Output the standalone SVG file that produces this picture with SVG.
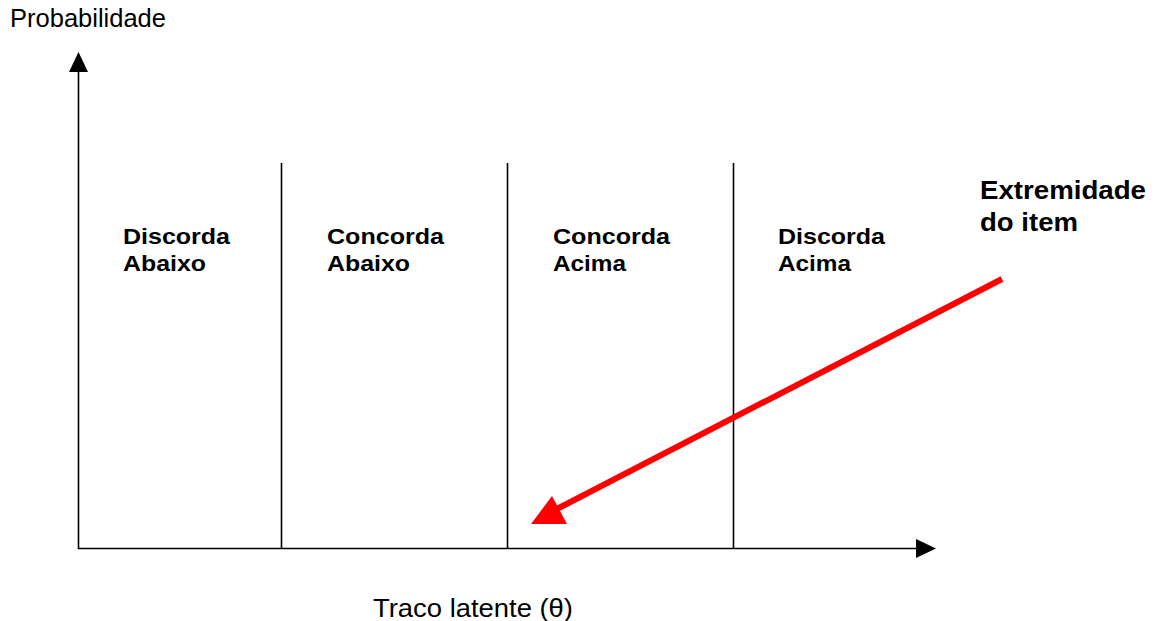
<svg xmlns="http://www.w3.org/2000/svg" width="1157" height="621" viewBox="0 0 1157 621">
<style>
.ax{stroke:#000;stroke-width:1.6;fill:none}
.lbl{font-family:"Liberation Sans",Arial,sans-serif;font-weight:bold;font-size:22px;fill:#000}
.ext{font-family:"Liberation Sans",Arial,sans-serif;font-weight:bold;font-size:25px;fill:#000}
.plain{font-family:"Liberation Sans",Arial,sans-serif;fill:#000}
</style>
<rect width="1157" height="621" fill="#fff"/>
<g id="connectors">
<line class="ax" x1="78.5" y1="549" x2="78.5" y2="70"/>
<polygon points="78.5,52 69,72 88,72" fill="#000"/>
<line class="ax" x1="78" y1="548.5" x2="918" y2="548.5"/>
<polygon points="936,548.5 916,539 916,558" fill="#000"/>
<line class="ax" x1="281.5" y1="163" x2="281.5" y2="548"/>
<line class="ax" x1="507.5" y1="163" x2="507.5" y2="548"/>
<line class="ax" x1="733.5" y1="163" x2="733.5" y2="548"/>
<line x1="1002" y1="279" x2="555" y2="510" stroke="#f00" stroke-width="6"/>
<polygon points="531,524 552,496 567,524" fill="#f00"/>
</g>
<g id="axis-y-label"><text class="plain" x="10" y="27" font-size="25" textLength="156" lengthAdjust="spacingAndGlyphs">Probabilidade</text></g>
<g id="axis-x-label"><text class="plain" x="373" y="617" font-size="26" textLength="200" lengthAdjust="spacingAndGlyphs">Traco latente (θ)</text></g>
<g id="discorda-abaixo"><text class="lbl" x="123" y="243.5" textLength="107" lengthAdjust="spacingAndGlyphs">Discorda</text><text class="lbl" x="123" y="271" textLength="83" lengthAdjust="spacingAndGlyphs">Abaixo</text></g>
<g id="concorda-abaixo"><text class="lbl" x="327" y="243.5" textLength="117" lengthAdjust="spacingAndGlyphs">Concorda</text><text class="lbl" x="327" y="271" textLength="83" lengthAdjust="spacingAndGlyphs">Abaixo</text></g>
<g id="concorda-acima"><text class="lbl" x="553" y="243.5" textLength="117" lengthAdjust="spacingAndGlyphs">Concorda</text><text class="lbl" x="553" y="271" textLength="73" lengthAdjust="spacingAndGlyphs">Acima</text></g>
<g id="discorda-acima"><text class="lbl" x="778" y="243.5" textLength="107" lengthAdjust="spacingAndGlyphs">Discorda</text><text class="lbl" x="778" y="271" textLength="73" lengthAdjust="spacingAndGlyphs">Acima</text></g>
<g id="extremidade"><text class="ext" x="980" y="198.5" textLength="166" lengthAdjust="spacingAndGlyphs">Extremidade</text><text class="ext" x="980" y="231" textLength="98" lengthAdjust="spacingAndGlyphs">do item</text></g>
</svg>
